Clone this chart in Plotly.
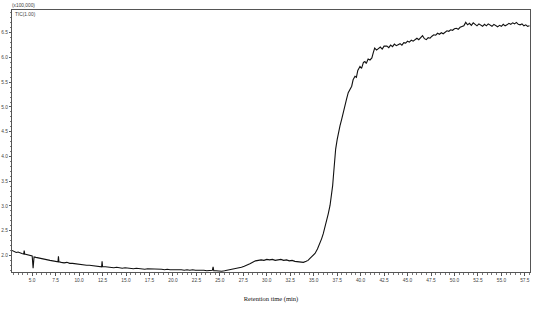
import plotly.graph_objects as go

# Retention time (min) and TIC intensity (x100,000)
time_min = [
    2.85, 3.1, 3.3, 3.5, 3.7, 3.9, 4.1, 4.15, 4.2, 4.4, 4.6, 4.8, 5.0, 5.1, 5.2, 5.4, 5.6, 5.8, 6.0, 6.3,
    6.6, 6.9, 7.2, 7.5, 7.75, 7.8, 7.85, 8.1, 8.4, 8.7, 9.0, 9.3, 9.6, 9.9, 10.2, 10.5, 10.8, 11.1, 11.4, 11.7,
    12.0, 12.4, 12.45, 12.5, 12.8, 13.1, 13.4, 13.7, 14.0, 14.3, 14.6, 14.9, 15.2, 15.5, 15.8, 16.1, 16.4, 16.7, 17.0, 17.3,
    17.6, 17.9, 18.2, 18.5, 18.8, 19.1, 19.4, 19.7, 20.0, 20.3, 20.6, 20.9, 21.2, 21.5, 21.8, 22.1, 22.4, 22.7, 23.0, 23.3,
    23.6, 23.9, 24.2, 24.28, 24.35, 24.6, 24.9, 25.2, 25.5, 25.8, 26.1, 26.4, 26.7, 27.0, 27.3, 27.6, 27.9, 28.2, 28.5, 28.8,
    29.1, 29.4, 29.7, 30.0, 30.3, 30.6, 30.9, 31.2, 31.5, 31.8, 32.1, 32.4, 32.7, 33.0, 33.3, 33.6, 33.9, 34.2, 34.4, 34.6,
    34.9, 35.14, 35.4, 35.67, 35.85, 36.02, 36.2, 36.38, 36.55, 36.74, 36.9, 37.02, 37.1, 37.19, 37.34, 37.5, 37.62, 37.8, 37.98, 38.15,
    38.33, 38.5, 38.68, 38.85, 39.05, 39.2, 39.4, 39.55, 39.7, 39.93, 40.1, 40.3, 40.46, 40.6, 40.8, 41.0, 41.2, 41.35, 41.5, 41.7,
    41.9, 42.1, 42.3, 42.5, 42.8, 43.0, 43.2, 43.4, 43.6, 43.8, 44.0, 44.2, 44.4, 44.6, 44.8, 45.0, 45.2, 45.4, 45.6, 45.8,
    46.0, 46.2, 46.4, 46.6, 46.8, 47.0, 47.2, 47.4, 47.6, 47.8, 48.0, 48.2, 48.4, 48.6, 48.8, 49.0, 49.2, 49.4, 49.6, 49.8,
    50.0, 50.2, 50.4, 50.6, 50.8, 51.0, 51.2, 51.4, 51.6, 51.8, 52.0, 52.2, 52.4, 52.6, 52.8, 53.0, 53.2, 53.4, 53.6, 53.8,
    54.0, 54.2, 54.4, 54.6, 54.8, 55.0, 55.2, 55.4, 55.6, 55.8, 56.0, 56.2, 56.4, 56.6, 56.8, 57.0, 57.2, 57.4, 57.6, 57.8,
    58.0,
]
tic_intensity = [
    2.10, 2.08, 2.06, 2.07, 2.05, 2.04, 2.03, 2.10, 2.03, 2.02, 2.01, 2.00, 1.99, 1.74, 1.97, 1.96, 1.95, 1.94, 1.93, 1.92,
    1.91, 1.90, 1.89, 1.88, 1.87, 1.98, 1.87, 1.86, 1.85, 1.86, 1.84, 1.84, 1.83, 1.82, 1.82, 1.81, 1.80, 1.80, 1.79, 1.79,
    1.78, 1.77, 1.88, 1.77, 1.77, 1.76, 1.76, 1.75, 1.76, 1.75, 1.74, 1.75, 1.74, 1.74, 1.73, 1.74, 1.73, 1.73, 1.72, 1.73,
    1.73, 1.72, 1.72, 1.73, 1.72, 1.71, 1.72, 1.71, 1.71, 1.72, 1.71, 1.71, 1.70, 1.71, 1.70, 1.71, 1.70, 1.70, 1.71, 1.70,
    1.69, 1.70, 1.70, 1.77, 1.69, 1.69, 1.68, 1.68, 1.69, 1.70, 1.71, 1.72, 1.73, 1.75, 1.76, 1.78, 1.80, 1.83, 1.86, 1.89,
    1.90, 1.91, 1.90, 1.92, 1.91, 1.92, 1.90, 1.91, 1.92, 1.90, 1.91, 1.89, 1.90, 1.88, 1.87, 1.87, 1.86, 1.88, 1.90, 1.94,
    1.99, 2.04, 2.13, 2.24, 2.34, 2.44, 2.56, 2.68, 2.84, 3.01, 3.22, 3.41, 3.60, 3.82, 4.15, 4.34, 4.49, 4.62, 4.75, 4.90,
    5.02, 5.16, 5.29, 5.36, 5.42, 5.55, 5.62, 5.60, 5.74, 5.82, 5.78, 5.90, 5.92, 5.88, 5.97, 5.95, 5.99, 6.10, 6.19, 6.15,
    6.18, 6.21, 6.17, 6.23, 6.23, 6.20, 6.25, 6.22, 6.27, 6.24, 6.26, 6.28, 6.25, 6.30, 6.29, 6.33, 6.31, 6.35, 6.33, 6.37,
    6.39, 6.36, 6.40, 6.44, 6.38, 6.36, 6.40, 6.39, 6.43, 6.46, 6.45, 6.49, 6.47, 6.50, 6.48, 6.52, 6.54, 6.53, 6.56, 6.55,
    6.58, 6.59, 6.57, 6.61, 6.63, 6.64, 6.71, 6.66, 6.69, 6.65, 6.70, 6.67, 6.64, 6.68, 6.65, 6.63, 6.67, 6.64, 6.68, 6.65,
    6.63, 6.67, 6.64, 6.62, 6.65, 6.63, 6.67, 6.64, 6.66, 6.69, 6.67, 6.70, 6.68, 6.71, 6.67, 6.66, 6.68, 6.64, 6.66, 6.63,
    6.64,
]

x_tick_vals = [5.0, 7.5, 10.0, 12.5, 15.0, 17.5, 20.0, 22.5, 25.0, 27.5, 30.0, 32.5, 35.0, 37.5, 40.0, 42.5, 45.0, 47.5, 50.0, 52.5, 55.0, 57.5]
x_tick_text = ["5.0", "7.5", "10.0", "12.5", "15.0", "17.5", "20.0", "22.5", "25.0", "27.5", "30.0", "32.5", "35.0", "37.5", "40.0", "42.5", "45.0", "47.5", "50.0", "52.5", "55.0", "57.5"]
y_tick_vals = [2.0, 2.5, 3.0, 3.5, 4.0, 4.5, 5.0, 5.5, 6.0, 6.5]
y_tick_text = ["2.0", "2.5", "3.0", "3.5", "4.0", "4.5", "5.0", "5.5", "6.0", "6.5"]

fig = go.Figure()
fig.add_trace(go.Scatter(
    x=time_min, y=tic_intensity, mode="lines",
    line=dict(color="#111111", width=1.1), showlegend=False,
))

tickfont = dict(family="Liberation Sans", size=4.8, color="#444444")

fig.update_layout(
    width=541, height=311,
    margin=dict(l=12, r=11, t=10, b=39, autoexpand=False),
    paper_bgcolor="white", plot_bgcolor="white",
    xaxis=dict(
        range=[2.85, 58.05], showgrid=False, zeroline=False, automargin=False,
        tickmode="array", tickvals=x_tick_vals, ticktext=x_tick_text,
        ticks="outside", ticklen=3, tickwidth=1, tickcolor="#555555",
        minor=dict(dtick=0.5, tick0=0, ticks="outside", ticklen=2, tickcolor="#777777", showgrid=False),
        showline=True, linecolor="#555555", linewidth=1, mirror=True,
        tickfont=tickfont,
        title=dict(text="Retention time (min)", font=dict(family="Liberation Serif", size=6.5, color="#111111"), standoff=14),
    ),
    yaxis=dict(
        range=[1.665, 6.96], showgrid=False, zeroline=False, automargin=False,
        tickmode="array", tickvals=y_tick_vals, ticktext=y_tick_text,
        ticks="outside", ticklen=2, tickwidth=1, tickcolor="#555555",
        minor=dict(dtick=0.1, tick0=0, ticks="outside", ticklen=1.5, tickcolor="#777777", showgrid=False),
        showline=True, linecolor="#555555", linewidth=1, mirror=True,
        tickfont=tickfont,
    ),
)

fig.add_annotation(x=0, y=1, xref="paper", yref="paper", xanchor="left", yanchor="bottom",
                   xshift=-2, yshift=0, text="(x100,000)", showarrow=False,
                   font=dict(family="Liberation Sans", size=4.8, color="#444444"))
fig.add_annotation(x=0, y=1, xref="paper", yref="paper", xanchor="left", yanchor="top",
                   xshift=1, yshift=0, text="TIC(1.00)", showarrow=False,
                   font=dict(family="Liberation Sans", size=4.8, color="#444444"))

fig.write_html("out.html", config={"displayModeBar": False},
               post_script="document.body.style.margin='0';document.body.style.overflow='hidden';")
